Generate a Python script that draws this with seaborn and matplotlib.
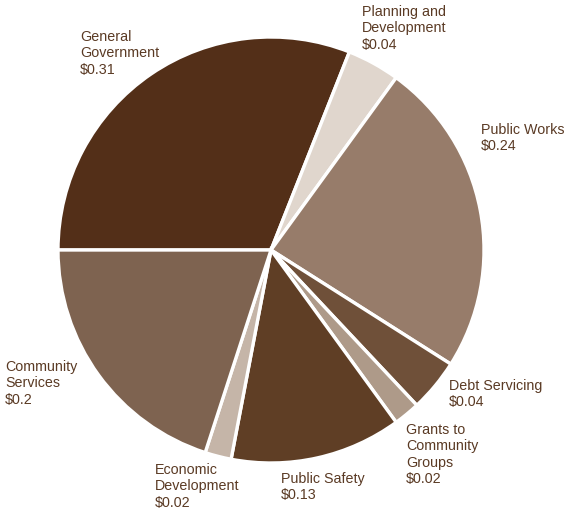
import matplotlib
matplotlib.use("Agg")
import matplotlib.pyplot as plt
import seaborn as sns

categories = ["General\nGovernment", "Planning and\nDevelopment", "Public Works", "Debt Servicing",
              "Grants to\nCommunity\nGroups", "Public Safety", "Economic\nDevelopment", "Community\nServices"]
values = [0.31, 0.04, 0.24, 0.04, 0.02, 0.13, 0.02, 0.20]
value_labels = ["$0.31", "$0.04", "$0.24", "$0.04", "$0.02", "$0.13", "$0.02", "$0.2"]
colors = ["#532f18", "#e0d6cd", "#977c6a", "#6f5039", "#ae9a89", "#5f3e25", "#c5b5a8", "#7e6350"]

# label anchor positions (pixels, top-left of text block)
label_pos = [(80, 30), (362, 5), (481, 123), (449, 379), (406, 423), (281, 472), (155, 463), (5, 360)]

sns.set_theme(style="white")
plt.rcParams['font.family'] = ['Liberation Sans', 'DejaVu Sans']

W, H = 573, 513
fig = plt.figure(figsize=(W / 100, H / 100), dpi=100)
fig.patch.set_facecolor("white")

cx, cy, r = 271, 250, 213
ax = fig.add_axes([(cx - r) / W, (H - cy - r) / H, 2 * r / W, 2 * r / H])
palette = sns.color_palette(colors)
ax.pie(values, colors=palette, startangle=180, counterclock=False,
       wedgeprops=dict(edgecolor="white", linewidth=2.4), radius=1)
ax.set_xlim(-1, 1)
ax.set_ylim(-1, 1)
ax.set_aspect("equal")
ax.axis("off")

for cat, vl, (px, py) in zip(categories, value_labels, label_pos):
    fig.text(px / W, 1 - py / H, cat + "\n" + vl, ha="left", va="top",
             fontsize=10.3, color="#5a3a24", linespacing=1.22)

fig.savefig("out.png", dpi=100, facecolor="white")
